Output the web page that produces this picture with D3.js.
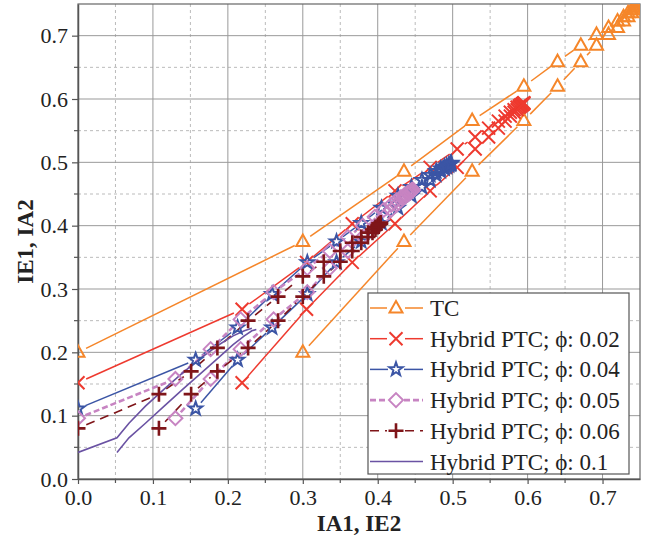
<!DOCTYPE html>
<html>
<head>
<meta charset="utf-8">
<script src="https://cdn.jsdelivr.net/npm/d3@7"></script>
<style>
  body { margin: 0; background: #fff; }
  svg { display: block; }
  text { font-family: "Liberation Serif", "Times New Roman", serif; fill: #222; }
</style>
</head>
<body>
<div id="chart"></div>
<script>
// upper branch (IA1, IE1) and lower branch (IE2, IA2) of each trajectory
var tcUpper = [[0, 0.200], [0.300, 0.375], [0.435, 0.486], [0.526, 0.566], [0.595, 0.620], [0.640, 0.659], [0.671, 0.685], [0.692, 0.702], [0.708, 0.713], [0.720, 0.723], [0.728, 0.730], [0.734, 0.736], [0.739, 0.741], [0.743, 0.745], [0.746, 0.748], [0.749, 0.751], [0.752, 0.754]];
var tcLower = [[0.300, 0.200], [0.435, 0.375], [0.526, 0.486], [0.595, 0.566], [0.640, 0.620], [0.671, 0.659], [0.692, 0.685], [0.708, 0.702], [0.720, 0.713], [0.728, 0.723], [0.734, 0.730], [0.739, 0.736], [0.743, 0.741], [0.746, 0.745], [0.749, 0.748], [0.752, 0.751]];

var p02Upper = [[0, 0.152], [0.219, 0.268], [0.305, 0.342], [0.366, 0.403], [0.423, 0.455], [0.470, 0.492], [0.506, 0.521], [0.530, 0.540], [0.548, 0.554], [0.561, 0.565], [0.570, 0.573], [0.577, 0.579], [0.582, 0.583], [0.586, 0.587], [0.589, 0.589], [0.591, 0.591], [0.593, 0.592], [0.594, 0.593], [0.595, 0.594]];
var p02Lower = [[0.219, 0.152], [0.305, 0.268], [0.366, 0.342], [0.423, 0.403], [0.470, 0.455], [0.506, 0.492], [0.530, 0.521], [0.548, 0.540], [0.561, 0.554], [0.570, 0.565], [0.577, 0.573], [0.582, 0.579], [0.586, 0.583], [0.589, 0.587], [0.591, 0.589], [0.593, 0.591], [0.594, 0.592], [0.595, 0.593]];

var p04Upper = [[0, 0.111], [0.157, 0.188], [0.213, 0.239], [0.259, 0.292], [0.306, 0.342], [0.345, 0.375], [0.378, 0.404], [0.405, 0.428], [0.427, 0.447], [0.445, 0.461], [0.459, 0.472], [0.470, 0.480], [0.478, 0.486], [0.484, 0.490], [0.489, 0.493], [0.492, 0.495], [0.495, 0.497], [0.497, 0.498], [0.498, 0.499]];
var p04Lower = [[0.157, 0.111], [0.213, 0.188], [0.259, 0.239], [0.306, 0.292], [0.345, 0.342], [0.378, 0.375], [0.405, 0.404], [0.427, 0.428], [0.445, 0.447], [0.459, 0.461], [0.470, 0.472], [0.478, 0.480], [0.484, 0.486], [0.489, 0.490], [0.492, 0.493], [0.495, 0.495], [0.497, 0.497], [0.498, 0.498]];

var p05Upper = [[0, 0.096], [0.130, 0.158], [0.177, 0.205], [0.217, 0.252], [0.261, 0.295], [0.306, 0.333], [0.336, 0.360], [0.360, 0.382], [0.380, 0.400], [0.396, 0.414], [0.408, 0.425], [0.418, 0.433], [0.425, 0.440], [0.431, 0.445], [0.436, 0.449], [0.440, 0.452], [0.443, 0.454], [0.445, 0.456], [0.447, 0.457]];
var p05Lower = [[0.130, 0.096], [0.177, 0.158], [0.217, 0.205], [0.261, 0.252], [0.306, 0.295], [0.336, 0.333], [0.360, 0.360], [0.380, 0.382], [0.396, 0.400], [0.408, 0.414], [0.418, 0.425], [0.425, 0.433], [0.431, 0.440], [0.436, 0.445], [0.440, 0.449], [0.443, 0.452], [0.445, 0.454], [0.447, 0.456]];

var p06Upper = [[0, 0.080], [0.108, 0.134], [0.151, 0.170], [0.186, 0.207], [0.227, 0.250], [0.267, 0.288], [0.300, 0.320], [0.328, 0.343], [0.350, 0.360], [0.366, 0.373], [0.378, 0.382], [0.387, 0.389], [0.393, 0.394], [0.397, 0.398], [0.400, 0.401], [0.402, 0.403], [0.404, 0.405]];
var p06Lower = [[0.108, 0.080], [0.151, 0.134], [0.186, 0.170], [0.227, 0.207], [0.267, 0.250], [0.300, 0.288], [0.328, 0.320], [0.350, 0.343], [0.366, 0.360], [0.378, 0.373], [0.387, 0.382], [0.393, 0.389], [0.397, 0.394], [0.400, 0.398], [0.402, 0.401], [0.404, 0.403]];

var p10Upper = [[0, 0.042], [0.052, 0.065], [0.068, 0.088], [0.090, 0.115], [0.115, 0.142], [0.140, 0.168], [0.165, 0.192], [0.188, 0.212], [0.207, 0.226], [0.222, 0.234], [0.232, 0.238]];
var p10Lower = [[0.052, 0.042], [0.068, 0.065], [0.090, 0.088], [0.115, 0.115], [0.140, 0.142], [0.165, 0.168], [0.188, 0.192], [0.207, 0.212], [0.222, 0.226], [0.232, 0.234], [0.238, 0.236]];

var seriesNames = ["TC", "Hybrid PTC; \u03d5: 0.02", "Hybrid PTC; \u03d5: 0.04", "Hybrid PTC; \u03d5: 0.05", "Hybrid PTC; \u03d5: 0.06", "Hybrid PTC; \u03d5: 0.1"];
var xTicks = [0, 0.1, 0.2, 0.3, 0.4, 0.5, 0.6, 0.7];
var yTicks = [0, 0.1, 0.2, 0.3, 0.4, 0.5, 0.6, 0.7];

(function() {
    var W = 660, H = 539;
    var pl = 78, pr = 640, pt = 4, pb = 479;

    var svg = d3.select("#chart").append("svg")
        .attr("width", W)
        .attr("height", H);

    var x = d3.scaleLinear().domain([0, 0.75]).range([pl, pr]);
    var y = d3.scaleLinear().domain([0, 0.75]).range([pb, pt]);

    var minor = [0.05, 0.15, 0.25, 0.35, 0.45, 0.55, 0.65];

    // grid
    var grid = svg.append("g");
    grid.selectAll(".vmin").data(minor).enter().append("line")
        .attr("x1", d => x(d)).attr("x2", d => x(d)).attr("y1", pt).attr("y2", pb)
        .attr("stroke", "#bbb").attr("stroke-dasharray", "3,3");
    grid.selectAll(".hmin").data(minor).enter().append("line")
        .attr("y1", d => y(d)).attr("y2", d => y(d)).attr("x1", pl).attr("x2", pr)
        .attr("stroke", "#bbb").attr("stroke-dasharray", "3,3");
    grid.selectAll(".vmaj").data(xTicks.slice(1)).enter().append("line")
        .attr("x1", d => x(d)).attr("x2", d => x(d)).attr("y1", pt).attr("y2", pb)
        .attr("stroke", "#999");
    grid.selectAll(".hmaj").data(yTicks.slice(1)).enter().append("line")
        .attr("y1", d => y(d)).attr("y2", d => y(d)).attr("x1", pl).attr("x2", pr)
        .attr("stroke", "#999");

    // frame
    svg.append("rect")
        .attr("x", pl).attr("y", pt)
        .attr("width", pr - pl).attr("height", pb - pt)
        .attr("fill", "none").attr("stroke", "#666").attr("stroke-width", 1.2);

    // axes
    var xAxis = svg.append("g")
        .attr("transform", `translate(0,${pb})`)
        .call(d3.axisBottom(x).tickValues(xTicks).tickFormat(d3.format(".1f")).tickSize(5).tickPadding(5).tickSizeOuter(0));
    var yAxis = svg.append("g")
        .attr("transform", `translate(${pl},0)`)
        .call(d3.axisLeft(y).tickValues(yTicks).tickFormat(d3.format(".1f")).tickSize(6).tickPadding(4).tickSizeOuter(0));
    [xAxis, yAxis].forEach(function(a) {
        a.attr("font-family", null).attr("font-size", null);
        a.select(".domain").attr("stroke", "#555").attr("stroke-width", 1.5);
        a.selectAll(".tick line").attr("stroke", "#555").attr("stroke-width", 1.2);
        a.selectAll("text").attr("font-size", 22).attr("fill", "#222");
    });
    // minor ticks
    svg.append("g").selectAll("line").data(minor).enter().append("line")
        .attr("x1", d => x(d)).attr("x2", d => x(d)).attr("y1", pb).attr("y2", pb + 4)
        .attr("stroke", "#555").attr("stroke-width", 1.2);
    svg.append("g").selectAll("line").data(minor).enter().append("line")
        .attr("y1", d => y(d)).attr("y2", d => y(d)).attr("x1", pl).attr("x2", pl - 4)
        .attr("stroke", "#555").attr("stroke-width", 1.2);

    svg.append("text")
        .attr("x", (pl + pr) / 2).attr("y", 531)
        .attr("text-anchor", "middle")
        .attr("font-size", 23).attr("font-weight", "bold")
        .text("IA1, IE2");
    svg.append("text")
        .attr("transform", `translate(33,${(pt + pb) / 2}) rotate(-90)`)
        .attr("text-anchor", "middle")
        .attr("font-size", 23).attr("font-weight", "bold")
        .text("IE1, IA2");

    // markers
    var markers = {
        tri: "M0,-7L6.5,4.5L-6.5,4.5Z",
        cross: "M-6.5,-6.5L6.5,6.5M-6.5,6.5L6.5,-6.5",
        star: d3.range(10).map(function(i) {
            var r = i % 2 ? 2.8 : 7, a = -Math.PI / 2 + i * Math.PI / 5;
            return (i ? "L" : "M") + (r * Math.cos(a)).toFixed(2) + "," + (r * Math.sin(a)).toFixed(2);
        }).join("") + "Z",
        diamond: "M0,-7L7,0L0,7L-7,0Z",
        plus: "M-7.5,0L7.5,0M0,-7.5L0,7.5",
        none: null
    };

    var series = [
        {name: seriesNames[0], branches: [tcUpper, tcLower], color: "#f5862a", width: 1.5, dash: null, marker: "tri", mw: 2, gap: 9},
        {name: seriesNames[1], branches: [p02Upper, p02Lower], color: "#ee3a2f", width: 1.5, dash: null, marker: "cross", mw: 2, gap: 9},
        {name: seriesNames[2], branches: [p04Upper, p04Lower], color: "#3b55a5", width: 1.5, dash: null, marker: "star", mw: 2, gap: 8},
        {name: seriesNames[3], branches: [p05Upper, p05Lower], color: "#c784c2", width: 2.6, dash: "6,3", marker: "diamond", mw: 2, gap: 8},
        {name: seriesNames[4], branches: [p06Upper, p06Lower], color: "#7f1519", width: 1.6, dash: "9,6", marker: "plus", mw: 2.6, gap: 9},
        {name: seriesNames[5], branches: [p10Upper, p10Lower], color: "#6a52a3", width: 1.6, dash: null, marker: "none", mw: 0, gap: 0}
    ];

    svg.append("clipPath").attr("id", "clip")
        .append("rect").attr("x", pl).attr("y", pt)
        .attr("width", pr - pl).attr("height", pb - pt);

    var plot = svg.append("g").attr("clip-path", "url(#clip)");

    // line segments stop short of the markers
    function segments(pts, gap) {
        var out = [];
        for (var i = 0; i < pts.length - 1; i++) {
            var x1 = x(pts[i][0]), y1 = y(pts[i][1]), x2 = x(pts[i + 1][0]), y2 = y(pts[i + 1][1]);
            var dx = x2 - x1, dy = y2 - y1, len = Math.sqrt(dx * dx + dy * dy);
            if (len <= 2 * gap + 1) continue;
            var ux = dx / len, uy = dy / len;
            out.push([x1 + ux * gap, y1 + uy * gap, x2 - ux * gap, y2 - uy * gap]);
        }
        return out;
    }

    series.forEach(function(s) {
        var g = plot.append("g");
        s.branches.forEach(function(pts) {
            if (s.gap === 0) {
                g.append("path")
                    .attr("d", d3.line().x(d => x(d[0])).y(d => y(d[1]))(pts))
                    .attr("fill", "none").attr("stroke", s.color).attr("stroke-width", s.width);
            } else {
                g.selectAll(null).data(segments(pts, s.gap)).enter().append("line")
                    .attr("x1", d => d[0]).attr("y1", d => d[1])
                    .attr("x2", d => d[2]).attr("y2", d => d[3])
                    .attr("stroke", s.color).attr("stroke-width", s.width)
                    .attr("stroke-dasharray", s.dash);
            }
        });
    });

    series.forEach(function(s) {
        if (!markers[s.marker]) return;
        var g = plot.append("g");
        s.branches.forEach(function(pts) {
            g.selectAll(null).data(pts).enter().append("path")
                .attr("transform", d => `translate(${x(d[0])},${y(d[1])})`)
                .attr("d", markers[s.marker])
                .attr("fill", "none").attr("stroke", s.color).attr("stroke-width", s.mw);
        });
    });

    // legend
    var lg = svg.append("g");
    lg.append("rect")
        .attr("x", 368).attr("y", 293).attr("width", 261).attr("height", 181)
        .attr("fill", "#fff").attr("stroke", "#555").attr("stroke-width", 1.2);
    series.forEach(function(s, i) {
        var cy = 308 + i * 30.7, cx = 396;
        var parts = s.gap === 0 ? [[370, 423]] : [[370, cx - s.gap], [cx + s.gap, 423]];
        parts.forEach(function(p) {
            lg.append("line")
                .attr("x1", p[0]).attr("x2", p[1]).attr("y1", cy).attr("y2", cy)
                .attr("stroke", s.color).attr("stroke-width", s.width)
                .attr("stroke-dasharray", s.dash);
        });
        if (markers[s.marker]) {
            lg.append("path")
                .attr("transform", `translate(${cx},${cy})`)
                .attr("d", markers[s.marker])
                .attr("fill", "none").attr("stroke", s.color).attr("stroke-width", s.mw);
        }
        lg.append("text")
            .attr("x", 430).attr("y", cy + 8)
            .attr("font-size", 23)
            .text(s.name);
    });
})();
</script>
</body>
</html>
